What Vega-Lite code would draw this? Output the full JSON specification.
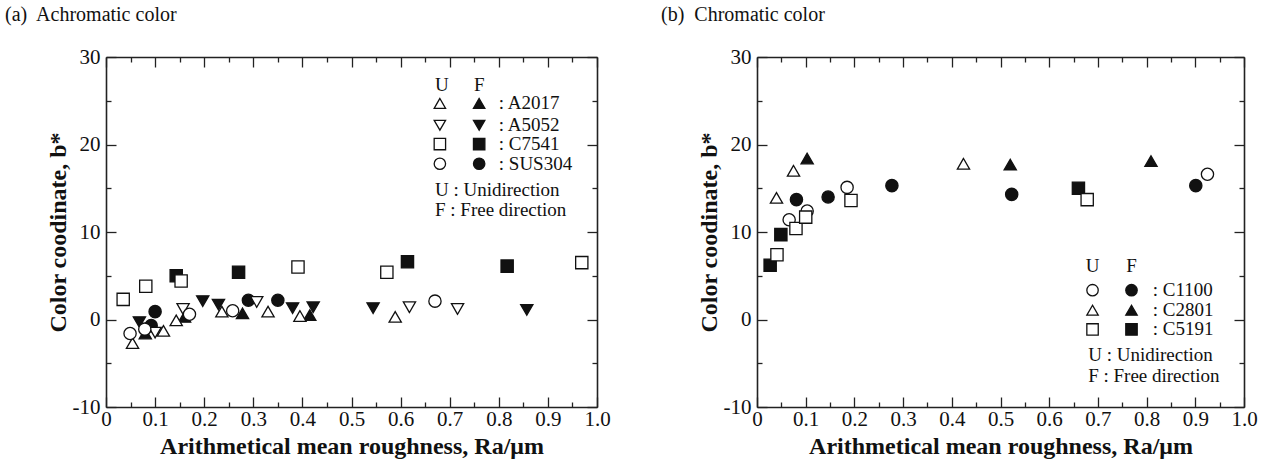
{
  "$schema": "https://vega.github.io/schema/vega-lite/v6.json",
  "background": "white",
  "padding": {"left": 5, "top": 5, "right": 5, "bottom": 1},
  "config": {
    "view": {"stroke": null},
    "axis": {
      "grid": false,
      "labelFont": "Liberation Serif",
      "labelFontSize": 21,
      "labelColor": "#111",
      "titleFont": "Liberation Serif",
      "titleFontSize": 24,
      "titleFontWeight": "bold",
      "titleColor": "#111",
      "domainColor": "#222",
      "domainWidth": 1.6,
      "tickColor": "#222",
      "tickWidth": 1.3
    },
    "text": {"font": "Liberation Serif", "fontSize": 19, "color": "#111", "baseline": "middle"}
  },
  "datasets": {
    "left": [
      {"material": "A2017", "mode": "F", "x": 0.08, "y": -1.6},
      {"material": "A2017", "mode": "F", "x": 0.16, "y": 0.3},
      {"material": "A2017", "mode": "F", "x": 0.278, "y": 0.7},
      {"material": "A2017", "mode": "F", "x": 0.415, "y": 0.5},
      {"material": "A5052", "mode": "F", "x": 0.068, "y": -0.3},
      {"material": "A5052", "mode": "F", "x": 0.197, "y": 2.1},
      {"material": "A5052", "mode": "F", "x": 0.229, "y": 1.7},
      {"material": "A5052", "mode": "F", "x": 0.38, "y": 1.3},
      {"material": "A5052", "mode": "F", "x": 0.422, "y": 1.4},
      {"material": "A5052", "mode": "F", "x": 0.544, "y": 1.3},
      {"material": "A5052", "mode": "F", "x": 0.857, "y": 1.1},
      {"material": "C7541", "mode": "F", "x": 0.143, "y": 5.0},
      {"material": "C7541", "mode": "F", "x": 0.27, "y": 5.4},
      {"material": "C7541", "mode": "F", "x": 0.614, "y": 6.6},
      {"material": "C7541", "mode": "F", "x": 0.817, "y": 6.1},
      {"material": "SUS304", "mode": "F", "x": 0.092, "y": -0.7},
      {"material": "SUS304", "mode": "F", "x": 0.1, "y": 0.9},
      {"material": "SUS304", "mode": "F", "x": 0.29, "y": 2.2},
      {"material": "SUS304", "mode": "F", "x": 0.35, "y": 2.2},
      {"material": "A2017", "mode": "U", "x": 0.054, "y": -2.7},
      {"material": "A2017", "mode": "U", "x": 0.117, "y": -1.3},
      {"material": "A2017", "mode": "U", "x": 0.143, "y": -0.1},
      {"material": "A2017", "mode": "U", "x": 0.236, "y": 0.9},
      {"material": "A2017", "mode": "U", "x": 0.33, "y": 0.9},
      {"material": "A2017", "mode": "U", "x": 0.395, "y": 0.4},
      {"material": "A2017", "mode": "U", "x": 0.589, "y": 0.3},
      {"material": "A5052", "mode": "U", "x": 0.1, "y": -1.5},
      {"material": "A5052", "mode": "U", "x": 0.157, "y": 1.2},
      {"material": "A5052", "mode": "U", "x": 0.307, "y": 2.0},
      {"material": "A5052", "mode": "U", "x": 0.618, "y": 1.4},
      {"material": "A5052", "mode": "U", "x": 0.716, "y": 1.2},
      {"material": "C7541", "mode": "U", "x": 0.035, "y": 2.3},
      {"material": "C7541", "mode": "U", "x": 0.081, "y": 3.8},
      {"material": "C7541", "mode": "U", "x": 0.153, "y": 4.4},
      {"material": "C7541", "mode": "U", "x": 0.391, "y": 6.0},
      {"material": "C7541", "mode": "U", "x": 0.572, "y": 5.4},
      {"material": "C7541", "mode": "U", "x": 0.969, "y": 6.5},
      {"material": "SUS304", "mode": "U", "x": 0.049, "y": -1.6},
      {"material": "SUS304", "mode": "U", "x": 0.079, "y": -1.1},
      {"material": "SUS304", "mode": "U", "x": 0.17, "y": 0.6},
      {"material": "SUS304", "mode": "U", "x": 0.258, "y": 1.0},
      {"material": "SUS304", "mode": "U", "x": 0.67, "y": 2.1}
    ],
    "right": [
      {"material": "C1100", "mode": "F", "x": 0.081, "y": 13.7},
      {"material": "C1100", "mode": "F", "x": 0.146, "y": 14.0},
      {"material": "C1100", "mode": "F", "x": 0.277, "y": 15.3},
      {"material": "C1100", "mode": "F", "x": 0.523, "y": 14.3},
      {"material": "C1100", "mode": "F", "x": 0.901, "y": 15.3},
      {"material": "C2801", "mode": "F", "x": 0.103, "y": 18.4},
      {"material": "C2801", "mode": "F", "x": 0.52, "y": 17.7},
      {"material": "C2801", "mode": "F", "x": 0.809, "y": 18.1},
      {"material": "C5191", "mode": "F", "x": 0.027, "y": 6.2},
      {"material": "C5191", "mode": "F", "x": 0.049, "y": 9.7},
      {"material": "C5191", "mode": "F", "x": 0.66, "y": 15.0},
      {"material": "C1100", "mode": "U", "x": 0.066, "y": 11.4},
      {"material": "C1100", "mode": "U", "x": 0.103, "y": 12.4},
      {"material": "C1100", "mode": "U", "x": 0.185, "y": 15.1},
      {"material": "C1100", "mode": "U", "x": 0.925, "y": 16.6},
      {"material": "C2801", "mode": "U", "x": 0.04, "y": 13.9},
      {"material": "C2801", "mode": "U", "x": 0.075, "y": 17.0},
      {"material": "C2801", "mode": "U", "x": 0.424, "y": 17.8},
      {"material": "C5191", "mode": "U", "x": 0.041, "y": 7.4},
      {"material": "C5191", "mode": "U", "x": 0.08, "y": 10.4},
      {"material": "C5191", "mode": "U", "x": 0.1, "y": 11.7},
      {"material": "C5191", "mode": "U", "x": 0.193, "y": 13.6},
      {"material": "C5191", "mode": "U", "x": 0.678, "y": 13.7}
    ],
    "legL": [
      {"material": "A2017", "mode": "U", "x": 0.68, "y": 24.7},
      {"material": "A2017", "mode": "F", "x": 0.76, "y": 24.7},
      {"material": "A5052", "mode": "U", "x": 0.68, "y": 22.2},
      {"material": "A5052", "mode": "F", "x": 0.76, "y": 22.2},
      {"material": "C7541", "mode": "U", "x": 0.68, "y": 20.05},
      {"material": "C7541", "mode": "F", "x": 0.76, "y": 20.05},
      {"material": "SUS304", "mode": "U", "x": 0.68, "y": 17.8},
      {"material": "SUS304", "mode": "F", "x": 0.76, "y": 17.8}
    ],
    "txtL": [
      {"x": 0.8, "y": 24.7, "text": ": A2017"},
      {"x": 0.8, "y": 22.2, "text": ": A5052"},
      {"x": 0.8, "y": 20.05, "text": ": C7541"},
      {"x": 0.8, "y": 17.8, "text": ": SUS304"},
      {"x": 0.67, "y": 14.75, "text": "U : Unidirection"},
      {"x": 0.67, "y": 12.55, "text": "F : Free direction"}
    ],
    "hdrL": [
      {"x": 0.684, "y": 26.8, "text": "U"},
      {"x": 0.76, "y": 26.8, "text": "F"}
    ],
    "legR": [
      {"material": "C1100", "mode": "U", "x": 0.689, "y": 3.35},
      {"material": "C1100", "mode": "F", "x": 0.769, "y": 3.35},
      {"material": "C2801", "mode": "U", "x": 0.689, "y": 1.06},
      {"material": "C2801", "mode": "F", "x": 0.769, "y": 1.06},
      {"material": "C5191", "mode": "U", "x": 0.689, "y": -1.14},
      {"material": "C5191", "mode": "F", "x": 0.769, "y": -1.14}
    ],
    "txtR": [
      {"x": 0.8125, "y": 3.35, "text": ": C1100"},
      {"x": 0.8125, "y": 1.06, "text": ": C2801"},
      {"x": 0.8125, "y": -1.14, "text": ": C5191"},
      {"x": 0.68, "y": -4.1, "text": "U : Unidirection"},
      {"x": 0.68, "y": -6.45, "text": "F : Free direction"}
    ],
    "hdrR": [
      {"x": 0.689, "y": 6.1, "text": "U"},
      {"x": 0.769, "y": 6.1, "text": "F"}
    ]
  },
  "spacing": 50,
  "hconcat": [
    {
      "width": 491,
      "height": 350,
      "title": {"text": "(a)\u00a0 Achromatic color", "anchor": "start", "frame": "group", "dx": -101, "offset": 21, "fontSize": 20, "font": "Liberation Serif", "fontWeight": "normal", "color": "#111"},
      "resolve": {"axis": {"x": "independent", "y": "independent"}},
      "layer": [
        {
          "data": {"name": "left"},
          "mark": {"type": "point", "filled": true, "stroke": "#111", "strokeWidth": 1.3, "opacity": 1, "size": 150},
          "encoding": {
            "x": {"field": "x", "type": "quantitative", "scale": {"domain": [0, 1], "nice": false, "zero": false},
              "axis": {"orient": "bottom", "values": [0,0.05,0.1,0.15,0.2,0.25,0.3,0.35,0.4,0.45,0.5,0.55,0.6,0.65,0.7,0.75,0.8,0.85,0.9,0.95,1],
                "tickSize": {"condition": {"test": "abs(datum.value*10-round(datum.value*10))<0.001", "value": -10}, "value": -5},
                "labelExpr": "abs(datum.value*10-round(datum.value*10))<0.001 ? (datum.value==0 ? '0' : format(datum.value,'.1f')) : ''",
                "labelFont": "Liberation Serif",
                "labelPadding": 11, "labelFlush": false, "labelOverlap": false, "title": "Arithmetical mean roughness, Ra/μm", "titlePadding": 0}},
            "y": {"field": "y", "type": "quantitative", "scale": {"domain": [-10, 30], "nice": false, "zero": false},
              "axis": {"orient": "left", "values": [-10,-5,0,5,10,15,20,25,30],
                "tickSize": {"condition": {"test": "datum.value % 10 == 0", "value": -10}, "value": -5},
                "labelExpr": "datum.value % 10 == 0 ? '' + datum.value : ''",
                "labelFont": "Liberation Serif",
                "labelPadding": 16, "labelOverlap": false, "labelFlush": false, "title": "Color coodinate, b*", "titlePadding": 2}},
            "shape": {"field": "material", "type": "nominal", "legend": null,
              "scale": {"domain": ["A2017","A5052","C7541","SUS304","C1100","C2801","C5191"], "range": ["triangle-up","triangle-down","square","circle","circle","triangle-up","square"]}},
            "fill": {"field": "mode", "type": "nominal", "legend": null, "scale": {"domain": ["U","F"], "range": ["#ffffff","#111111"]}}
          }
        },
        {
          "data": {"name": "legL"},
          "mark": {"type": "point", "filled": true, "stroke": "#111", "strokeWidth": 1.3, "opacity": 1, "size": 130},
          "encoding": {
            "x": {"field": "x", "type": "quantitative", "scale": {"domain": [0, 1], "nice": false, "zero": false},
              "axis": {"orient": "top", "values": [0,0.05,0.1,0.15,0.2,0.25,0.3,0.35,0.4,0.45,0.5,0.55,0.6,0.65,0.7,0.75,0.8,0.85,0.9,0.95,1],
                "tickSize": {"condition": {"test": "abs(datum.value*10-round(datum.value*10))<0.001", "value": -10}, "value": -5},
                "labels": false, "title": null}},
            "y": {"field": "y", "type": "quantitative", "scale": {"domain": [-10, 30], "nice": false, "zero": false},
              "axis": {"orient": "right", "values": [-10,-5,0,5,10,15,20,25,30],
                "tickSize": {"condition": {"test": "datum.value % 10 == 0", "value": -10}, "value": -5},
                "labels": false, "title": null}},
            "shape": {"field": "material", "type": "nominal", "legend": null,
              "scale": {"domain": ["A2017","A5052","C7541","SUS304","C1100","C2801","C5191"], "range": ["triangle-up","triangle-down","square","circle","circle","triangle-up","square"]}},
            "fill": {"field": "mode", "type": "nominal", "legend": null, "scale": {"domain": ["U","F"], "range": ["#ffffff","#111111"]}}
          }
        },
        {
          "data": {"name": "txtL"},
          "mark": {"type": "text", "align": "left", "font": "Liberation Serif", "fontSize": 19},
          "encoding": {
            "x": {"field": "x", "type": "quantitative", "axis": null, "scale": {"domain": [0, 1], "nice": false, "zero": false}},
            "y": {"field": "y", "type": "quantitative", "axis": null, "scale": {"domain": [-10, 30], "nice": false, "zero": false}},
            "text": {"field": "text"}
          }
        },
        {
          "data": {"name": "hdrL"},
          "mark": {"type": "text", "align": "center", "font": "Liberation Serif", "fontSize": 19},
          "encoding": {
            "x": {"field": "x", "type": "quantitative", "axis": null, "scale": {"domain": [0, 1], "nice": false, "zero": false}},
            "y": {"field": "y", "type": "quantitative", "axis": null, "scale": {"domain": [-10, 30], "nice": false, "zero": false}},
            "text": {"field": "text"}
          }
        }
      ]
    },
    {
      "width": 487,
      "height": 350,
      "title": {"text": "(b)\u00a0 Chromatic color", "anchor": "start", "frame": "group", "dx": -96, "offset": 21, "fontSize": 20, "font": "Liberation Serif", "fontWeight": "normal", "color": "#111"},
      "resolve": {"axis": {"x": "independent", "y": "independent"}},
      "layer": [
        {
          "data": {"name": "right"},
          "mark": {"type": "point", "filled": true, "stroke": "#111", "strokeWidth": 1.3, "opacity": 1, "size": 150},
          "encoding": {
            "x": {"field": "x", "type": "quantitative", "scale": {"domain": [0, 1], "nice": false, "zero": false},
              "axis": {"orient": "bottom", "values": [0,0.05,0.1,0.15,0.2,0.25,0.3,0.35,0.4,0.45,0.5,0.55,0.6,0.65,0.7,0.75,0.8,0.85,0.9,0.95,1],
                "tickSize": {"condition": {"test": "abs(datum.value*10-round(datum.value*10))<0.001", "value": -10}, "value": -5},
                "labelExpr": "abs(datum.value*10-round(datum.value*10))<0.001 ? (datum.value==0 ? '0' : format(datum.value,'.1f')) : ''",
                "labelFont": "Liberation Serif",
                "labelPadding": 11, "labelFlush": false, "labelOverlap": false, "title": "Arithmetical mean roughness, Ra/μm", "titlePadding": 0}},
            "y": {"field": "y", "type": "quantitative", "scale": {"domain": [-10, 30], "nice": false, "zero": false},
              "axis": {"orient": "left", "values": [-10,-5,0,5,10,15,20,25,30],
                "tickSize": {"condition": {"test": "datum.value % 10 == 0", "value": -10}, "value": -5},
                "labelExpr": "datum.value % 10 == 0 ? '' + datum.value : ''",
                "labelFont": "Liberation Serif",
                "labelPadding": 16, "labelOverlap": false, "labelFlush": false, "title": "Color coodinate, b*", "titlePadding": 2}},
            "shape": {"field": "material", "type": "nominal", "legend": null,
              "scale": {"domain": ["A2017","A5052","C7541","SUS304","C1100","C2801","C5191"], "range": ["triangle-up","triangle-down","square","circle","circle","triangle-up","square"]}},
            "fill": {"field": "mode", "type": "nominal", "legend": null, "scale": {"domain": ["U","F"], "range": ["#ffffff","#111111"]}}
          }
        },
        {
          "data": {"name": "legR"},
          "mark": {"type": "point", "filled": true, "stroke": "#111", "strokeWidth": 1.3, "opacity": 1, "size": 130},
          "encoding": {
            "x": {"field": "x", "type": "quantitative", "scale": {"domain": [0, 1], "nice": false, "zero": false},
              "axis": {"orient": "top", "values": [0,0.05,0.1,0.15,0.2,0.25,0.3,0.35,0.4,0.45,0.5,0.55,0.6,0.65,0.7,0.75,0.8,0.85,0.9,0.95,1],
                "tickSize": {"condition": {"test": "abs(datum.value*10-round(datum.value*10))<0.001", "value": -10}, "value": -5},
                "labels": false, "title": null}},
            "y": {"field": "y", "type": "quantitative", "scale": {"domain": [-10, 30], "nice": false, "zero": false},
              "axis": {"orient": "right", "values": [-10,-5,0,5,10,15,20,25,30],
                "tickSize": {"condition": {"test": "datum.value % 10 == 0", "value": -10}, "value": -5},
                "labels": false, "title": null}},
            "shape": {"field": "material", "type": "nominal", "legend": null,
              "scale": {"domain": ["A2017","A5052","C7541","SUS304","C1100","C2801","C5191"], "range": ["triangle-up","triangle-down","square","circle","circle","triangle-up","square"]}},
            "fill": {"field": "mode", "type": "nominal", "legend": null, "scale": {"domain": ["U","F"], "range": ["#ffffff","#111111"]}}
          }
        },
        {
          "data": {"name": "txtR"},
          "mark": {"type": "text", "align": "left", "font": "Liberation Serif", "fontSize": 19},
          "encoding": {
            "x": {"field": "x", "type": "quantitative", "axis": null, "scale": {"domain": [0, 1], "nice": false, "zero": false}},
            "y": {"field": "y", "type": "quantitative", "axis": null, "scale": {"domain": [-10, 30], "nice": false, "zero": false}},
            "text": {"field": "text"}
          }
        },
        {
          "data": {"name": "hdrR"},
          "mark": {"type": "text", "align": "center", "font": "Liberation Serif", "fontSize": 19},
          "encoding": {
            "x": {"field": "x", "type": "quantitative", "axis": null, "scale": {"domain": [0, 1], "nice": false, "zero": false}},
            "y": {"field": "y", "type": "quantitative", "axis": null, "scale": {"domain": [-10, 30], "nice": false, "zero": false}},
            "text": {"field": "text"}
          }
        }
      ]
    }
  ]
}
